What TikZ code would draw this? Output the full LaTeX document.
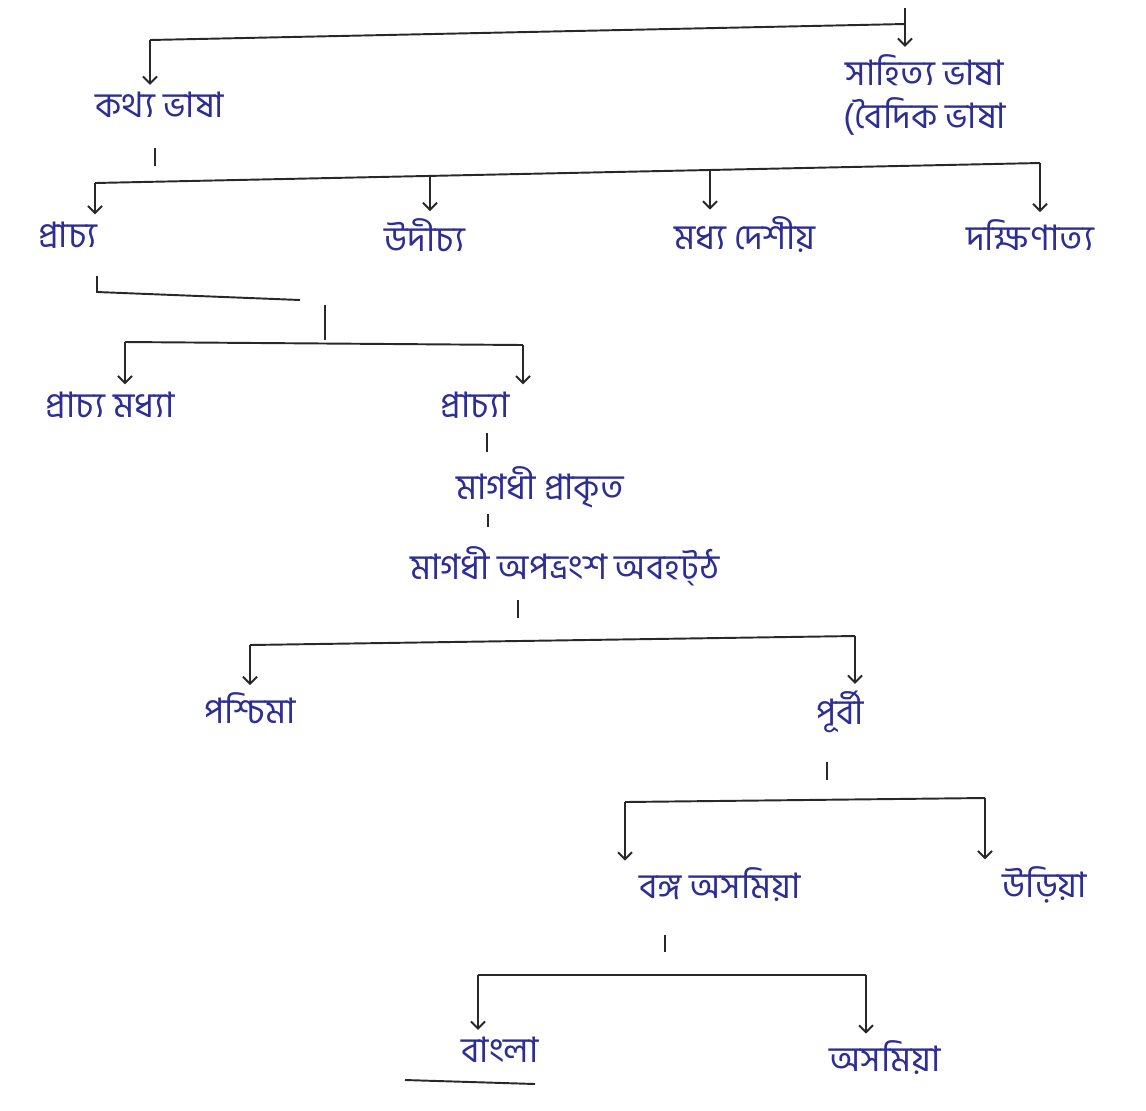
\documentclass[tikz,border=0pt]{standalone}
\usepackage{fontspec}
\newfontfamily\bnfont[Script=Bengali]{Hind Siliguri}
\usetikzlibrary{arrows.meta}
\definecolor{ink}{RGB}{45,45,150}
\definecolor{pen}{RGB}{40,40,40}
\begin{document}
\begin{tikzpicture}[x=0.02cm,y=-0.02cm,
  lbl/.style={font=\bnfont\fontsize{20}{25}\selectfont, text=ink, inner sep=1pt},
  conn/.style={draw=pen, line width=1.1pt},
  arr/.style={conn, -{Straight Barb[length=4pt,width=8pt]}, shorten >=3pt}]
\useasboundingbox (0,0) rectangle (1146,1110);
\fill[white] (0,0) rectangle (1146,1110);

% nodes
\node[lbl] (kathya) at (160,105) {কথ্য ভাষা};
\node[lbl, align=center] (sahitya) at (925,95) {সাহিত্য ভাষা\\(বৈদিক ভাষা};
\node[lbl] (prachya) at (68,235) {প্রাচ্য};
\node[lbl] (udichya) at (425,235) {উদীচ্য};
\node[lbl] (madhya) at (745,235) {মধ্য দেশীয়};
\node[lbl] (dakshina) at (1030,235) {দক্ষিণাত্য};
\node[lbl] (pmadhya) at (110,405) {প্রাচ্য মধ্যা};
\node[lbl] (prachyaa) at (475,405) {প্রাচ্যা};
\node[lbl] (magp) at (540,487) {মাগধী প্রাকৃত};
\node[lbl] (maga) at (565,566) {মাগধী অপভ্রংশ অবহট্ঠ};
\node[lbl] (paschima) at (250,708) {পশ্চিমা};
\node[lbl] (purbi) at (840,712) {পূর্বী};
\node[lbl] (banga) at (720,885) {বঙ্গ অসমিয়া};
\node[lbl] (oriya) at (1045,885) {উড়িয়া};
\node[lbl] (bangla) at (500,1050) {বাংলা};
\node[lbl] (asamiya) at (885,1058) {অসমিয়া};

% level 1
\coordinate (root) at (905,8);
\coordinate (b0L) at (150,40);
\coordinate (b0R) at (905,24);
\draw[conn] (b0L) -- (b0R);
\draw[arr] (root) -- (root |- sahitya.north);
\draw[arr] (b0L) -- (b0L |- kathya.north);

% level 2
\coordinate (s1) at (155,148);
\draw[conn] (s1) -- ++(0,18);
\coordinate (b1L) at (95,183);
\coordinate (b1R) at (1040,163);
\coordinate (b1a) at (430,176);
\coordinate (b1b) at (710,170);
\draw[conn] (b1L) -- (b1R);
\draw[arr] (b1L) -- (b1L |- prachya.north);
\draw[arr] (b1a) -- (b1a |- udichya.north);
\draw[arr] (b1b) -- (b1b |- madhya.north);
\draw[arr] (b1R) -- (b1R |- dakshina.north);

% level 3
\coordinate (c1) at (97,276);
\draw[conn] (c1) -- ++(0,16) -- (300,300);
\coordinate (s2) at (325,305);
\draw[conn] (s2) -- ++(0,35);
\coordinate (b2L) at (125,342);
\coordinate (b2R) at (523,345);
\draw[conn] (b2L) -- (b2R);
\draw[arr] (b2L) -- (b2L |- pmadhya.north);
\draw[arr] (b2R) -- (b2R |- prachyaa.north);

% chain
\coordinate (s6) at (487,433);
\draw[conn] (s6) -- ++(0,19);
\coordinate (s7) at (488,514);
\draw[conn] (s7) -- ++(0,13);
\coordinate (s3) at (518,600);
\draw[conn] (s3) -- ++(0,18);

% level 4
\coordinate (b3L) at (250,645);
\coordinate (b3R) at (855,636);
\draw[conn] (b3L) -- (b3R);
\draw[arr] (b3L) -- (b3L |- paschima.north);
\draw[arr] (b3R) -- (b3R |- purbi.north);

% level 5
\coordinate (s4) at (827,762);
\draw[conn] (s4) -- ++(0,18);
\coordinate (b4L) at (625,802);
\coordinate (b4R) at (985,798);
\draw[conn] (b4L) -- (b4R);
\draw[arr] (b4L) -- (b4L |- banga.north);
\draw[arr] (b4R) -- (b4R |- oriya.north);

% level 6
\coordinate (s5) at (665,935);
\draw[conn] (s5) -- ++(0,17);
\coordinate (b5L) at (478,975);
\coordinate (b5R) at (866,975);
\draw[conn] (b5L) -- (b5R);
\draw[arr] (b5L) -- (b5L |- bangla.north);
\draw[arr] (b5R) -- (b5R |- asamiya.north);

% underline
\draw[conn] (405,1080) -- (535,1084);
\end{tikzpicture}
\end{document}
